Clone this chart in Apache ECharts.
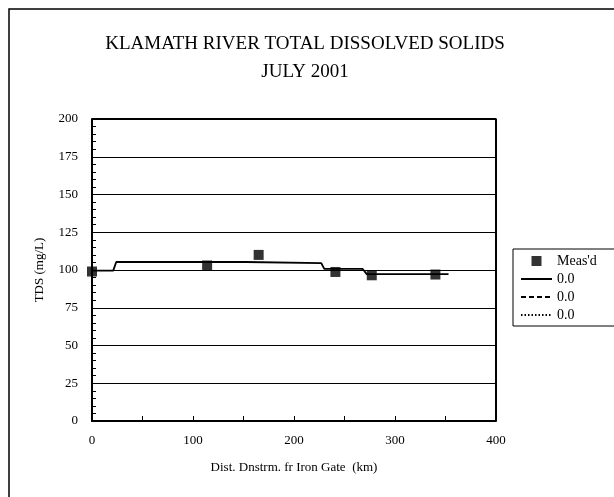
<!DOCTYPE html>
<html>
<head>
<meta charset="utf-8">
<script src="https://cdn.jsdelivr.net/npm/echarts@6/dist/echarts.min.js"></script>
<style>
  html, body { margin: 0; padding: 0; background: #fff; }
  #chart { width: 614px; height: 497px; }
</style>
</head>
<body>
<div id="chart"></div>
<script>
// Measured TDS along the Klamath River, July 2001
const measDist = [0, 114, 165, 241, 277, 340];
const measTds = [99, 103, 110, 98.7, 96.5, 97];

// Simulated TDS profile (distance km, mg/L)
const modelDist = [0, 21, 24, 152, 152, 227, 230, 268, 272, 353];
const modelTds = [99.6, 99.6, 105.3, 105.3, 104.6, 104.6, 100.7, 100.7, 97.3, 97.3];

const xTicks = [0, 100, 200, 300, 400];
const yTicks = [0, 25, 50, 75, 100, 125, 150, 175, 200];

const font = 'Liberation Serif';
const chart = echarts.init(document.getElementById('chart'), null, { renderer: 'canvas' });

const pairs = (xs, ys) => xs.map((x, i) => [x, ys[i]]);
const noSymbol = { opacity: 0 };

chart.setOption({
  animation: false,
  backgroundColor: '#fff',
  title: {
    text: 'KLAMATH RIVER TOTAL DISSOLVED SOLIDS\nJULY 2001',
    left: 300, top: 25, textAlign: 'center',
    textStyle: { fontFamily: font, fontSize: 19, fontWeight: 'normal', color: '#000', lineHeight: 28 }
  },
  graphic: [{
    type: 'rect', shape: { x: 9, y: 9, width: 640, height: 520 },
    style: { fill: 'none', stroke: '#000', lineWidth: 1.5 }, silent: true
  }],
  grid: { left: 92, top: 119, right: 118, bottom: 76, containLabel: false },
  legend: {
    orient: 'vertical', left: 513, top: 249,
    borderColor: '#000', borderWidth: 1, padding: [5, 40, 4, 7],
    itemGap: 4, itemWidth: 31, itemHeight: 10,
    textStyle: { fontFamily: font, fontSize: 14, color: '#000' },
    formatter: n => n.trim(),
    data: [
      { name: "Meas'd", icon: 'path://M0,0h10v10h-10z' },
      { name: '0.0', itemStyle: noSymbol },
      { name: '0.0 ', itemStyle: noSymbol },
      { name: '0.0  ', itemStyle: noSymbol }
    ]
  },
  xAxis: {
    type: 'value', min: 0, max: 400, interval: 50,
    name: 'Dist. Dnstrm. fr Iron Gate  (km)', nameLocation: 'middle', nameGap: 40,
    nameTextStyle: { fontFamily: font, fontSize: 13, color: '#000' },
    axisLine: { lineStyle: { color: '#000', width: 2 } },
    axisTick: { inside: true, length: 5, lineStyle: { color: '#000' } },
    axisLabel: {
      margin: 13, fontFamily: font, fontSize: 13, color: '#000',
      formatter: v => (xTicks.includes(v) ? String(v) : '')
    },
    splitLine: { show: false }
  },
  yAxis: {
    type: 'value', min: 0, max: 200, interval: 25,
    name: 'TDS (mg/L)', nameLocation: 'middle', nameGap: 46,
    nameTextStyle: { fontFamily: font, fontSize: 13, color: '#000' },
    axisLine: { lineStyle: { color: '#000', width: 2 } },
    axisTick: { inside: true, length: 5, lineStyle: { color: '#000' } },
    minorTick: { show: true, splitNumber: 5, length: 4, lineStyle: { color: '#000' } },
    axisLabel: {
      margin: 14, fontFamily: font, fontSize: 13, color: '#000',
      formatter: v => (yTicks.includes(v) ? String(v) : '')
    },
    splitLine: { show: true, lineStyle: { color: '#000', width: 1 } }
  },
  series: [
    {
      name: "Meas'd", type: 'scatter', symbol: 'rect', symbolSize: 10,
      itemStyle: { color: '#000' }, z: 5,
      data: pairs(measDist, measTds)
    },
    {
      name: '0.0', type: 'line', symbol: 'none',
      itemStyle: { color: '#000' },
      lineStyle: { color: '#000', width: 1.8, type: 'solid' },
      data: pairs(modelDist, modelTds)
    },
    {
      name: '0.0 ', type: 'line', symbol: 'none',
      itemStyle: { color: '#000' },
      lineStyle: { color: '#000', width: 1.2, type: [5, 3] },
      data: []
    },
    {
      name: '0.0  ', type: 'line', symbol: 'none',
      itemStyle: { color: '#000' },
      lineStyle: { color: '#000', width: 1, type: [1.5, 2] },
      data: []
    },
    {
      // heavy frame on the top and right of the plot
      type: 'line', symbol: 'none', silent: true,
      lineStyle: { color: '#000', width: 2 },
      data: [[0, 200], [400, 200], [400, 0]]
    }
  ]
});
</script>
</body>
</html>
